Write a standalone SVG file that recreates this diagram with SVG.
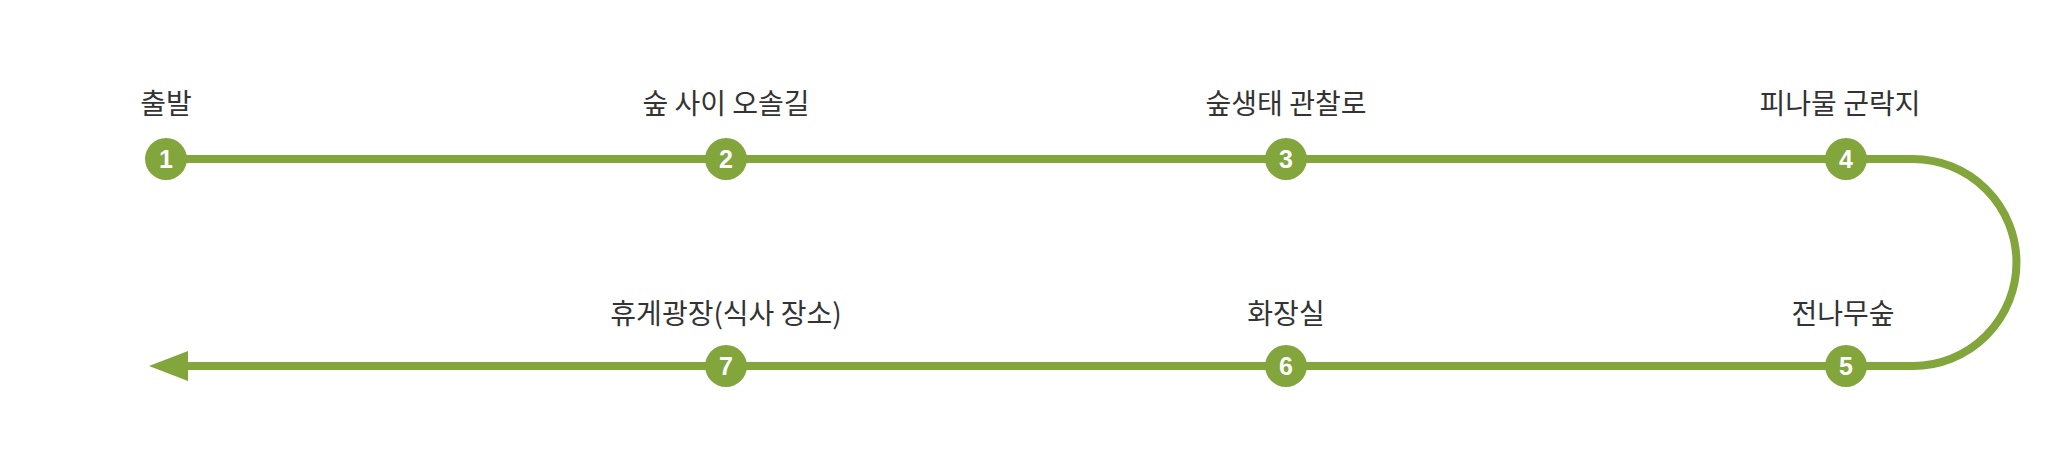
<svg xmlns="http://www.w3.org/2000/svg" width="2065" height="471" viewBox="0 0 2065 471">
<style>
.lbl{font-family:"Noto Sans CJK KR","Noto Sans",sans-serif;font-size:28px;fill:#333;text-anchor:middle}
.num{font-family:"Liberation Sans",sans-serif;font-weight:bold;font-size:25px;fill:#fff;text-anchor:middle}
.dot{fill:#82a53c}
</style>
<rect width="2065" height="471" fill="#fff"/>
<g id="connectors">
<path d="M166 159 H1913 A103.5 103.5 0 0 1 1913 366 H180" fill="none" stroke="#82a53c" stroke-width="8"/>
<polygon points="149,366 188,351 188,381" fill="#82a53c"/>
</g>
<g id="n1"><text class="lbl" x="166" y="114">출발</text><circle class="dot" cx="166" cy="159" r="21"/><text class="num" x="166" y="168">1</text></g>
<g id="n2"><text class="lbl" x="726" y="114">숲 사이 오솔길</text><circle class="dot" cx="726" cy="159" r="21"/><text class="num" x="726" y="168">2</text></g>
<g id="n3"><text class="lbl" x="1286" y="114">숲생태 관찰로</text><circle class="dot" cx="1286" cy="159" r="21"/><text class="num" x="1286" y="168">3</text></g>
<g id="n4"><text class="lbl" x="1840" y="114">피나물 군락지</text><circle class="dot" cx="1846" cy="159" r="21"/><text class="num" x="1846" y="168">4</text></g>
<g id="n5"><text class="lbl" x="1843" y="324">전나무숲</text><circle class="dot" cx="1846" cy="366" r="21"/><text class="num" x="1846" y="375">5</text></g>
<g id="n6"><text class="lbl" x="1286" y="324">화장실</text><circle class="dot" cx="1286" cy="366" r="21"/><text class="num" x="1286" y="375">6</text></g>
<g id="n7"><text class="lbl" x="726" y="324">휴게광장(식사 장소)</text><circle class="dot" cx="726" cy="366" r="21"/><text class="num" x="726" y="375">7</text></g>
</svg>
